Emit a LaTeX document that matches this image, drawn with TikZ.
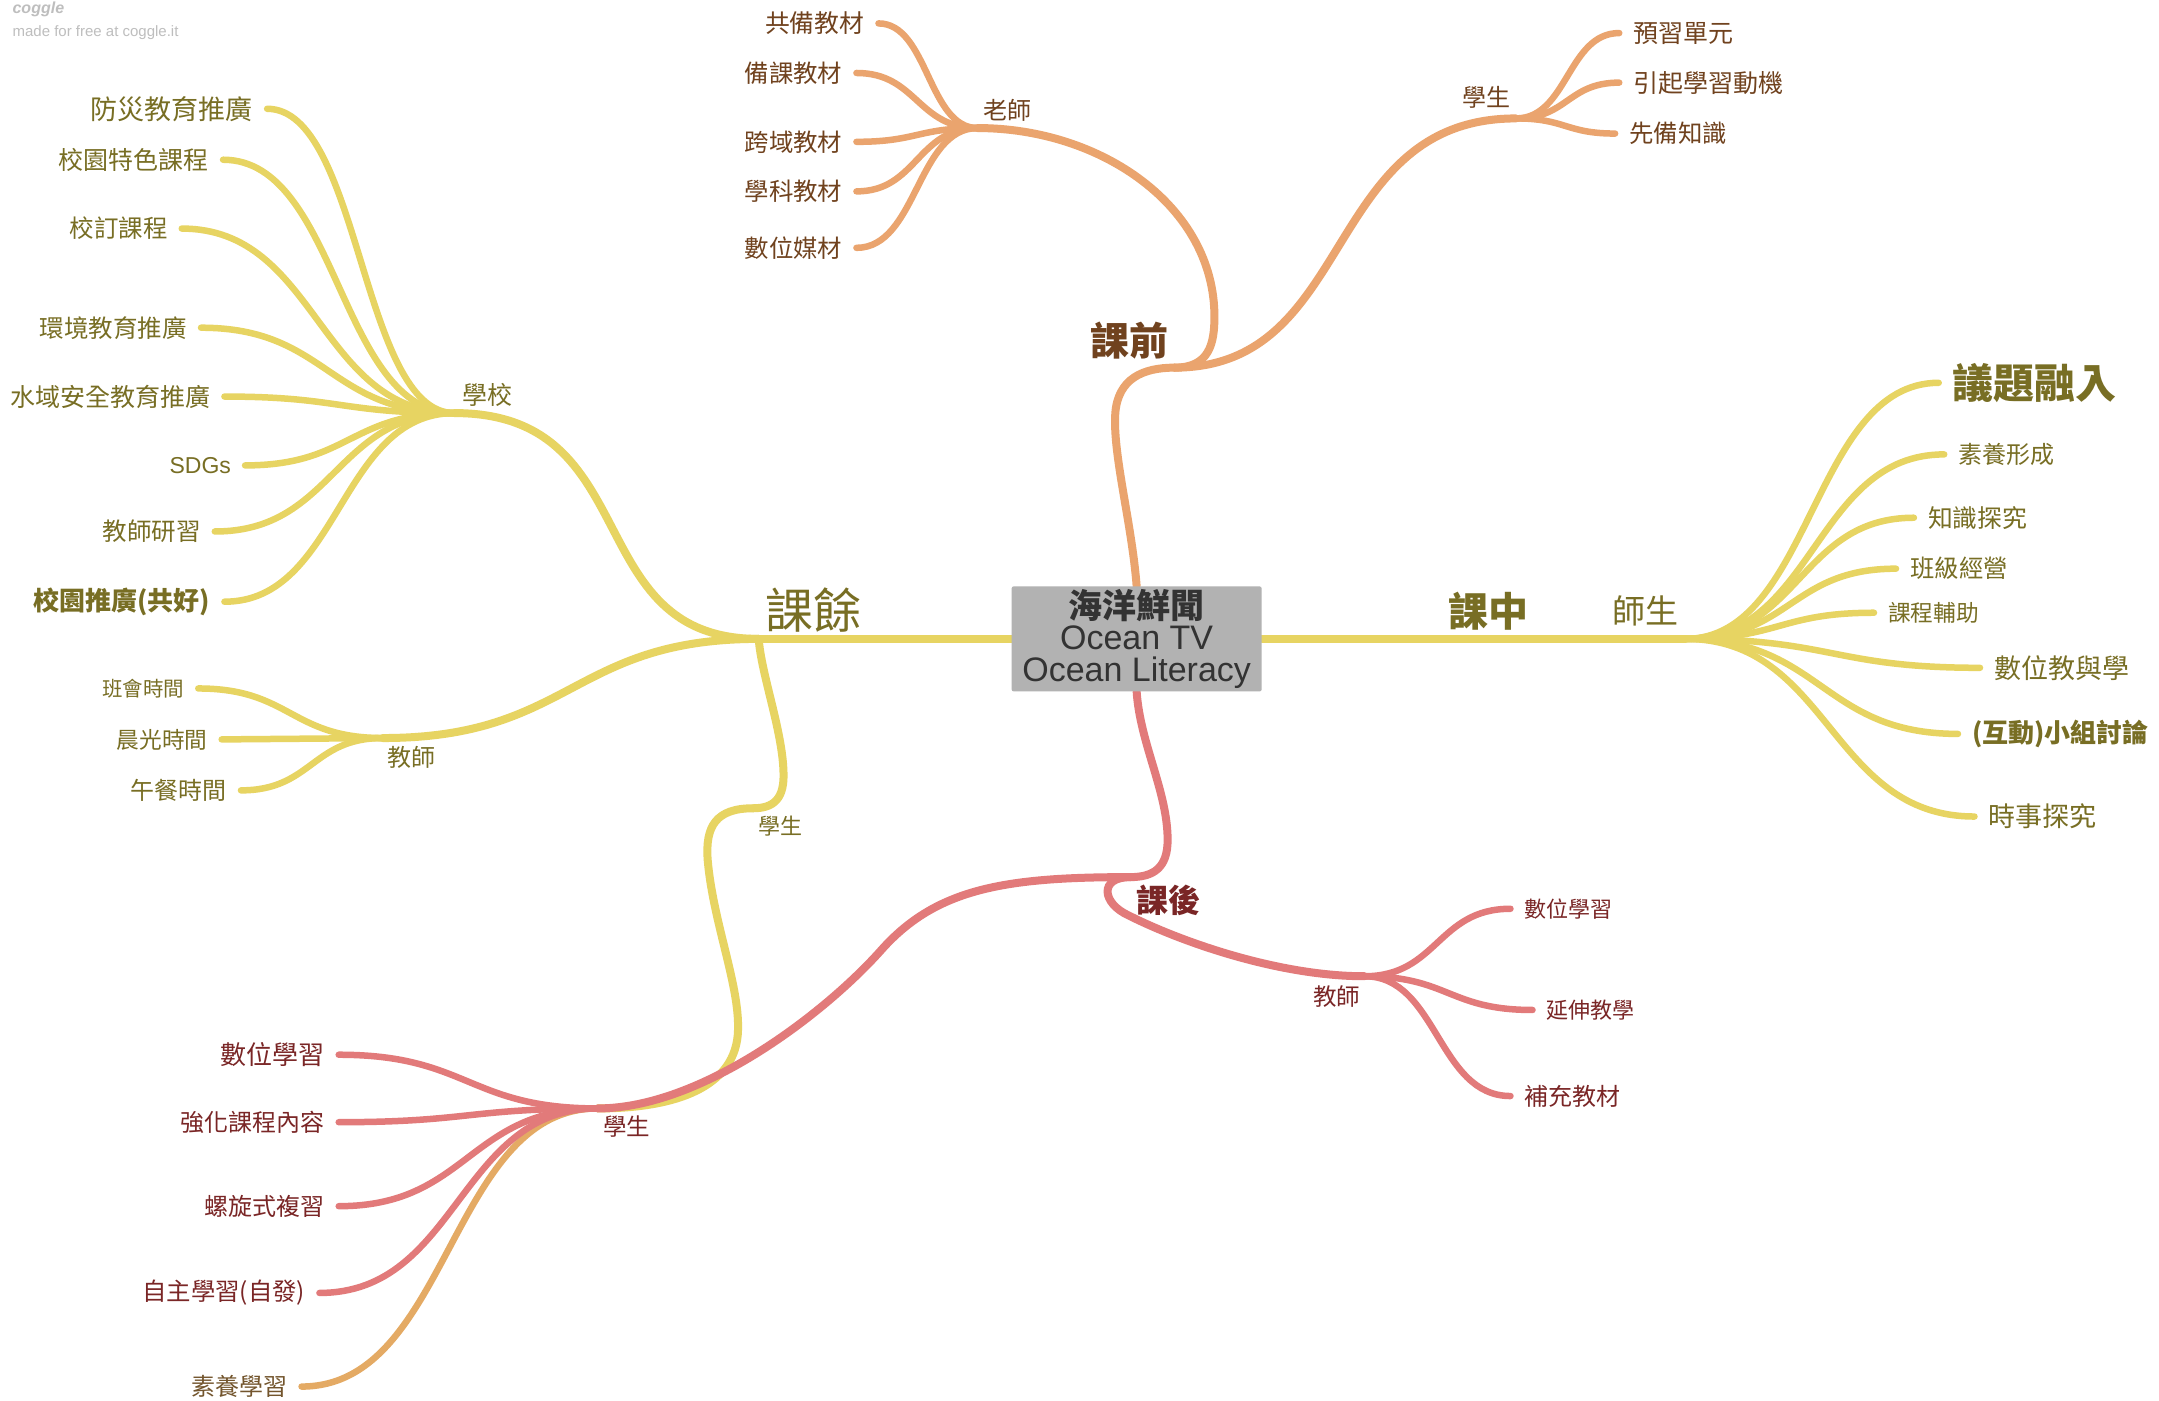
\documentclass[tikz,border=0pt]{standalone}
\usepackage{fontspec}
\setmainfont{Noto Sans CJK TC}
\newfontfamily\lat{Liberation Sans}
\usetikzlibrary{calc,backgrounds}
\definecolor{ylw}{RGB}{231,212,98}
\definecolor{ylwT}{RGB}{120,110,36}
\definecolor{org}{RGB}{234,164,110}
\definecolor{orgT}{RGB}{112,66,30}
\definecolor{rdL}{RGB}{226,122,122}
\definecolor{rdT}{RGB}{122,38,38}
\definecolor{tanL}{RGB}{228,170,100}
\definecolor{tanT}{RGB}{115,85,45}
\definecolor{boxF}{RGB}{178,178,178}
\definecolor{boxT}{RGB}{51,51,51}
\definecolor{wmk}{RGB}{190,190,190}
\newcommand\fsz[1]{\fontsize{#1}{#1}\selectfont}
\tikzset{
  br/.style={line width=8pt, line cap=round},
  lf/.style={line width=6.5pt, line cap=round},
  hc/.style={to path={.. controls ($(\tikztostart)!0.5!(\tikztotarget |- \tikztostart)$) and ($(\tikztotarget)!0.5!(\tikztostart |- \tikztotarget)$) .. (\tikztotarget)}},
  lt/.style={anchor=east, xshift=-14pt, inner sep=0pt},
  rt/.style={anchor=west, xshift=14pt, inner sep=0pt},
  lb/.style={inner sep=0pt},
}
\begin{document}
\begin{tikzpicture}[x=1.377pt,y=-1.377pt]
\useasboundingbox (0,0) rectangle (1568,1017);

% ---------- junction coordinates ----------
\coordinate (hubL) at (551,464);
\coordinate (jSch) at (330,300);
\coordinate (jTL) at (278,536);
\coordinate (jSY) at (547,587);
\coordinate (jMid) at (1112,464);
\coordinate (jTS) at (1224,464);
\coordinate (jPre) at (853,267);
\coordinate (jTch) at (710,93);
\coordinate (jSO) at (1101,86);
\coordinate (jPost) at (821,637);
\coordinate (jTR) at (991,709);
\coordinate (jSR) at (434,805);

% ---------- leaf line ends ----------
\coordinate (eA1) at (194,79);
\coordinate (eA2) at (162,116);
\coordinate (eA3) at (132,166);
\coordinate (eA4) at (146,238);
\coordinate (eA5) at (163,288);
\coordinate (eA6) at (178,338);
\coordinate (eA7) at (156,386);
\coordinate (eA8) at (163,437);
\coordinate (eB1) at (144,500);
\coordinate (eB2) at (161,537);
\coordinate (eB3) at (175,574);
\coordinate (eC1) at (1408,278);
\coordinate (eC2) at (1412,330);
\coordinate (eC3) at (1390,376);
\coordinate (eC4) at (1377,413);
\coordinate (eC5) at (1361,445);
\coordinate (eC6) at (1438,485);
\coordinate (eC7) at (1422,533);
\coordinate (eC8) at (1434,593);
\coordinate (eD1) at (638,17);
\coordinate (eD2) at (622,53);
\coordinate (eD3) at (622,103);
\coordinate (eD4) at (622,139);
\coordinate (eD5) at (622,180);
\coordinate (eE1) at (1176,24);
\coordinate (eE2) at (1176,60);
\coordinate (eE3) at (1173,97);
\coordinate (eF1) at (1097,660);
\coordinate (eF2) at (1113,733.5);
\coordinate (eF3) at (1097,796);
\coordinate (eG1) at (246,766);
\coordinate (eG2) at (246,815);
\coordinate (eG3) at (246,876);
\coordinate (eG4) at (232,939);
\coordinate (eG5) at (219,1007);

% ---------- central node ----------
\node[fill=boxF, rounded corners=2pt, minimum width=250pt, minimum height=105pt,
      inner sep=0pt, align=center, text=boxT, font=\fontsize{34}{31.7}\selectfont]
      (root) at (825.5,464) {{\bfseries 海洋鮮聞}\\{\lat Ocean TV}\\{\lat Ocean Literacy}};

% ---------- watermark ----------
\node[anchor=west, inner sep=0pt, text=wmk, font=\lat\bfseries\itshape\fsz{16}] (wm1) at (9,7) {coggle};
\node[anchor=west, inner sep=0pt, text=wmk, font=\lat\fsz{15}] (wm2) at (9,23.5) {made for free at coggle.it};

% ---------- branch labels ----------
\node[lb, text=ylwT, font=\fsz{48}] (l1) at (591,443) {課餘};
\node[lb, text=ylwT, font=\fsz{25}] (l2) at (354,287) {學校};
\node[lb, text=ylwT, font=\fsz{24}] (l3) at (298.5,550) {教師};
\node[lb, text=ylwT, font=\fsz{22}] (l4) at (567,600) {學生};
\node[lb, text=ylwT, font=\bfseries\fsz{40}] (l5) at (1081,444) {課中};
\node[lb, text=ylwT, font=\fsz{33}] (l6) at (1195,444) {師生};
\node[lb, text=orgT, font=\bfseries\fsz{39}] (l7) at (820,247) {課前};
\node[lb, text=orgT, font=\fsz{24}] (l8) at (731.5,80) {老師};
\node[lb, text=orgT, font=\fsz{24}] (l9) at (1079.5,71) {學生};
\node[lb, text=rdT, font=\bfseries\fsz{32}] (l10) at (848.5,654) {課後};
\node[lb, text=rdT, font=\fsz{23.5}] (l11) at (971,724) {教師};
\node[lb, text=rdT, font=\fsz{23.5}] (l12) at (455,818) {學生};

% ---------- leaf labels ----------
\node[lt, text=ylwT, font=\fsz{27}] (tA1) at (eA1) {防災教育推廣};
\node[lt, text=ylwT, font=\fsz{25}] (tA2) at (eA2) {校園特色課程};
\node[lt, text=ylwT, font=\fsz{24.5}] (tA3) at (eA3) {校訂課程};
\node[lt, text=ylwT, font=\fsz{24.5}] (tA4) at (eA4) {環境教育推廣};
\node[lt, text=ylwT, font=\fsz{25}] (tA5) at (eA5) {水域安全教育推廣};
\node[lt, text=ylwT, font=\lat\fsz{23}] (tA6) at (eA6) {SDGs};
\node[lt, text=ylwT, font=\fsz{24.5}] (tA7) at (eA7) {教師研習};
\node[lt, text=ylwT, font=\bfseries\fsz{26}] (tA8) at (eA8) {校園推廣(共好)};
\node[lt, text=ylwT, font=\fsz{20.5}] (tB1) at (eB1) {班會時間};
\node[lt, text=ylwT, font=\fsz{22.7}] (tB2) at (eB2) {晨光時間};
\node[lt, text=ylwT, font=\fsz{24}] (tB3) at (eB3) {午餐時間};
\node[rt, text=ylwT, font=\bfseries\fsz{41}] (tC1) at (eC1) {議題融入};
\node[rt, text=ylwT, font=\fsz{24}] (tC2) at (eC2) {素養形成};
\node[rt, text=ylwT, font=\fsz{24.8}] (tC3) at (eC3) {知識探究};
\node[rt, text=ylwT, font=\fsz{24.4}] (tC4) at (eC4) {班級經營};
\node[rt, text=ylwT, font=\fsz{22.7}] (tC5) at (eC5) {課程輔助};
\node[rt, text=ylwT, font=\fsz{27}] (tC6) at (eC6) {數位教與學};
\node[rt, text=ylwT, font=\bfseries\fsz{26}] (tC7) at (eC7) {(互動)小組討論};
\node[rt, text=ylwT, font=\fsz{27}] (tC8) at (eC8) {時事探究};
\node[lt, text=orgT, font=\fsz{24.8}] (tD1) at (eD1) {共備教材};
\node[lt, text=orgT, font=\fsz{24.4}] (tD2) at (eD2) {備課教材};
\node[lt, text=orgT, font=\fsz{24.4}] (tD3) at (eD3) {跨域教材};
\node[lt, text=orgT, font=\fsz{24.4}] (tD4) at (eD4) {學科教材};
\node[lt, text=orgT, font=\fsz{24.4}] (tD5) at (eD5) {數位媒材};
\node[rt, text=orgT, font=\fsz{25}] (tE1) at (eE1) {預習單元};
\node[rt, text=orgT, font=\fsz{25}] (tE2) at (eE2) {引起學習動機};
\node[rt, text=orgT, font=\fsz{24.4}] (tE3) at (eE3) {先備知識};
\node[rt, text=rdT, font=\fsz{22}] (tF1) at (eF1) {數位學習};
\node[rt, text=rdT, font=\fsz{22}] (tF2) at (eF2) {延伸教學};
\node[rt, text=rdT, font=\fsz{24}] (tF3) at (eF3) {補充教材};
\node[lt, text=rdT, font=\fsz{26}] (tG1) at (eG1) {數位學習};
\node[lt, text=rdT, font=\fsz{24}] (tG2) at (eG2) {強化課程內容};
\node[lt, text=rdT, font=\fsz{24}] (tG3) at (eG3) {螺旋式複習};
\node[lt, text=rdT, font=\fsz{24.4}] (tG4) at (eG4) {自主學習(自發)};
\node[lt, text=tanT, font=\fsz{24}] (tG5) at (eG5) {素養學習};

% ---------- connectors ----------
\begin{pgfonlayer}{background}
\fill[white] (0,0) rectangle (1568,1017);
% yellow: 課餘
\draw[br, ylw] (root.west) -- (hubL);
\draw[br, ylw] (hubL) .. controls (420,464) and (470,300) .. (jSch);
\draw[br, ylw] (hubL) .. controls (415,464) and (415,536) .. (jTL);
\draw[br, ylw] (hubL) .. controls (553,490) and (568,530) .. (569,560) .. controls (570,580) and (562,587) .. (jSY);
\draw[br, ylw] (jSY) .. controls (520,587) and (512,600) .. (514,625) .. controls (518,670) and (537,715) .. (536,748) .. controls (535,790) and (490,805) .. (jSR);
\draw[lf, tanL] (jSR) to[hc] (eG5);
\foreach \e in {eA1,eA2,eA3,eA4,eA5,eA6,eA7,eA8} \draw[lf, ylw] (jSch) to[hc] (\e);
\foreach \e in {eB1,eB2,eB3} \draw[lf, ylw] (jTL) to[hc] (\e);
% yellow: 課中
\draw[br, ylw] (root.east) -- (jMid) -- (jTS);
\foreach \e in {eC1,eC2,eC3,eC4,eC5,eC6,eC7,eC8} \draw[lf, ylw] (jTS) to[hc] (\e);
% orange: 課前
\draw[br, org] (root.north) .. controls (822,380) and (808,330) .. (810,300) .. controls (812,275) and (830,267) .. (jPre);
\draw[br, org] (jPre) .. controls (878,267) and (882,250) .. (882,230) .. controls (882,150) and (800,93) .. (jTch);
\draw[br, org] (jPre) .. controls (985,267) and (960,86) .. (jSO);
\foreach \e in {eD1,eD2,eD3,eD4,eD5} \draw[lf, org] (jTch) to[hc] (\e);
\foreach \e in {eE1,eE2,eE3} \draw[lf, org] (jSO) to[hc] (\e);
% red: 課後
\draw[br, rdL] (root.south) .. controls (828,540) and (848,575) .. (848,610) .. controls (848,630) and (838,637) .. (jPost);
\draw[br, rdL] (jPost) .. controls (730,637) and (680,645) .. (640,690) .. controls (600,735) and (510,805) .. (jSR);
\draw[br, rdL] (jPost) .. controls (798,637) and (800,656) .. (820,665) .. controls (860,685) and (930,709) .. (jTR);
\foreach \e in {eF1,eF2,eF3} \draw[lf, rdL] (jTR) to[hc] (\e);
\foreach \e in {eG1,eG2,eG3,eG4} \draw[lf, rdL] (jSR) to[hc] (\e);
\end{pgfonlayer}
\end{tikzpicture}
\end{document}
